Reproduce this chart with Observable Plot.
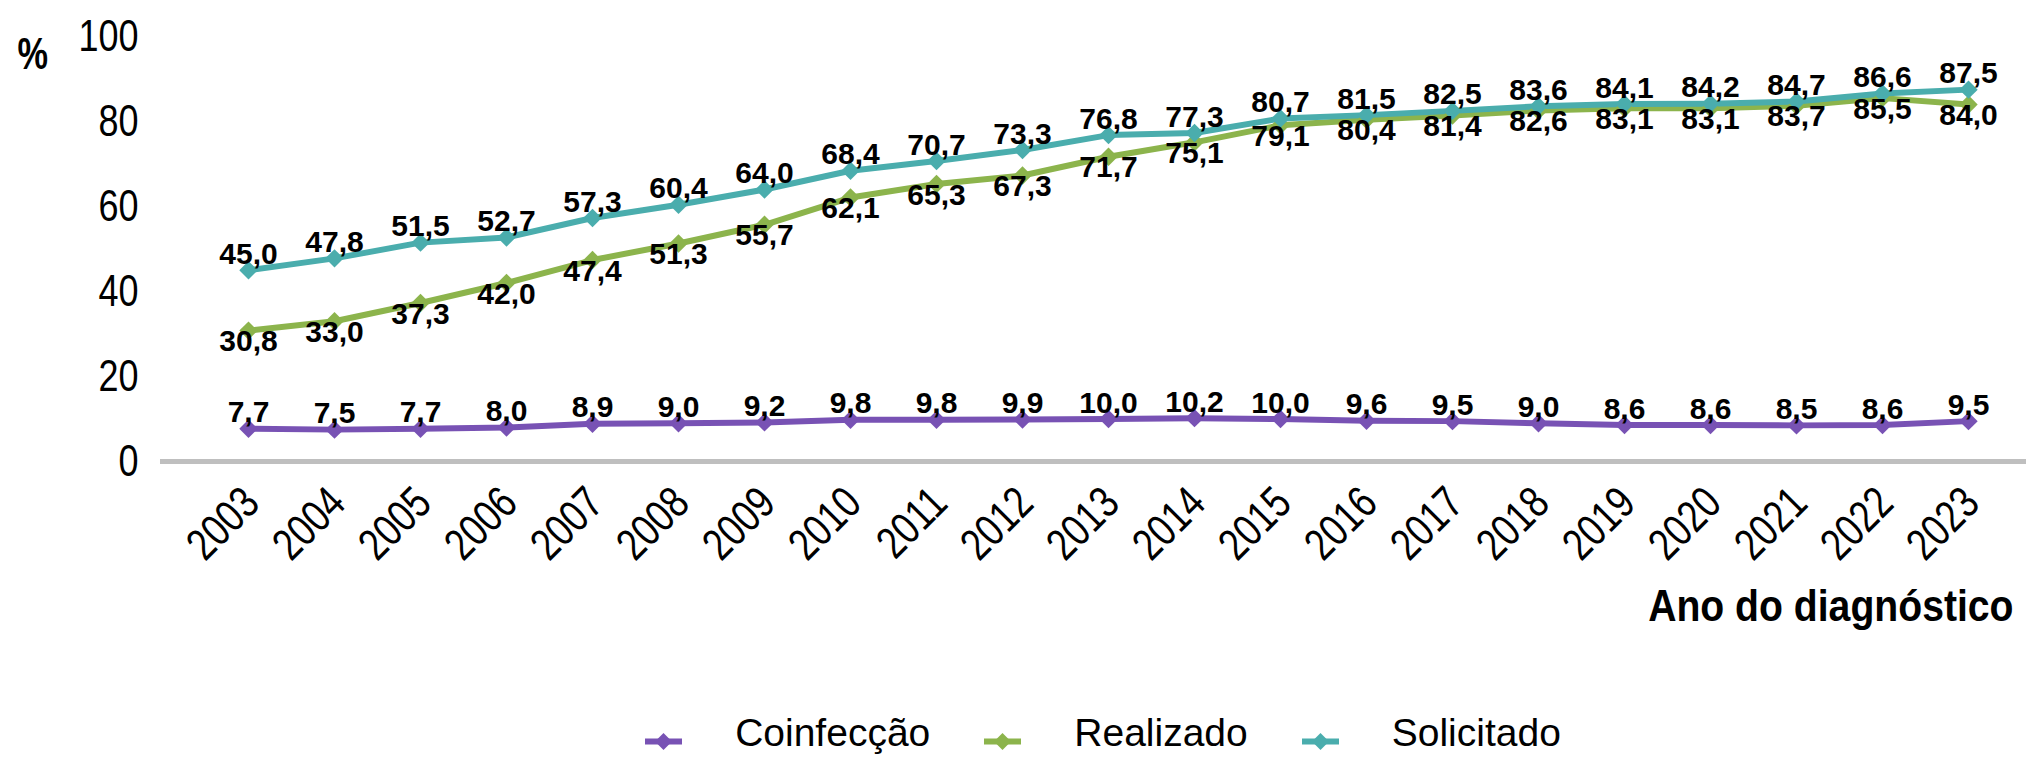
<!DOCTYPE html>
<html><head><meta charset="utf-8">
<script src="https://cdn.jsdelivr.net/npm/d3@7"></script>
<script src="https://cdn.jsdelivr.net/npm/@observablehq/plot@0.6"></script>
<style>
html,body{margin:0;padding:0;background:#fff;}
#wrap{position:relative;width:2026px;height:757px;overflow:hidden;}
#wrap > svg{position:absolute;left:0;top:0;}
#legend{position:absolute;left:170px;width:1866px;top:717px;display:flex;justify-content:center;align-items:flex-start;font-family:"Liberation Sans",Arial,sans-serif;font-size:39px;line-height:32px;color:#000;}
.item{display:flex;align-items:flex-start;margin:0 27px;white-space:nowrap;}
.item svg{margin-top:15px;margin-right:53px;}
</style></head>
<body><div id="wrap"><div id="legend"></div></div>
<script>
const years = [2003,2004,2005,2006,2007,2008,2009,2010,2011,2012,2013,2014,2015,2016,2017,2018,2019,2020,2021,2022,2023];
const coinfeccao = [7.7,7.5,7.7,8.0,8.9,9.0,9.2,9.8,9.8,9.9,10.0,10.2,10.0,9.6,9.5,9.0,8.6,8.6,8.5,8.6,9.5];
const realizado = [30.8,33.0,37.3,42.0,47.4,51.3,55.7,62.1,65.3,67.3,71.7,75.1,79.1,80.4,81.4,82.6,83.1,83.1,83.7,85.5,84.0];
const solicitado = [45.0,47.8,51.5,52.7,57.3,60.4,64.0,68.4,70.7,73.3,76.8,77.3,80.7,81.5,82.5,83.6,84.1,84.2,84.7,86.6,87.5];
const seriesNames = ["Coinfecção","Realizado","Solicitado"];
const seriesColors = ["#7852b4","#8cb44c","#4aadad"];
const yTicks = [0,20,40,60,80,100];
const yLabel = "%";
const xLabel = "Ano do diagnóstico";

const seriesValues = [coinfeccao, realizado, solicitado];
const data = seriesNames.flatMap((s, i) => years.map((yr, j) => ({series: s, year: yr, value: seriesValues[i][j]})));
const fmt = v => v.toFixed(1).replace(".", ",");
const font = '"Liberation Sans",Arial,sans-serif';
const H = 680;

const labelOffsets = {"Coinfecção": -16, "Realizado": 11, "Solicitado": -16};
const narrowTag = s => () => "narrow-" + s;

const chart = Plot.plot({
  width: 2026,
  height: H,
  marginLeft: 160,
  marginRight: 0,
  marginTop: 36,
  marginBottom: H - 461,
  style: {background: "transparent", fontFamily: font, color: "#000", overflow: "visible"},
  x: {type: "point", domain: years, range: [246, 1970], padding: 0, axis: null},
  y: {domain: [0, 100], axis: null},
  color: {domain: seriesNames, range: seriesColors},
  marks: [
    Plot.text(yTicks, {y: d => d, text: d => String(d), frameAnchor: "left", dx: -22, textAnchor: "end", lineAnchor: "middle", fontSize: 45, fill: "#000", ariaLabel: narrowTag("080")}),
    Plot.ruleY([0], {stroke: "#bfbfbf", strokeWidth: 5}),
    Plot.text(years, {x: d => d, text: d => String(d), frameAnchor: "bottom", dx: 3, dy: 34, rotate: -45, textAnchor: "end", lineAnchor: "middle", fontSize: 45, fill: "#000", ariaLabel: narrowTag("080")}),
    Plot.text([yLabel], {frameAnchor: "top-left", dx: 17 - 160, dy: 68 - 36, textAnchor: "start", lineAnchor: "bottom", fontSize: 44, fontWeight: "bold", fill: "#000", ariaLabel: narrowTag("078")}),
    Plot.text([xLabel], {frameAnchor: "bottom-right", dx: -13, dy: 620 - 461, textAnchor: "end", lineAnchor: "bottom", fontSize: 45, fontWeight: "bold", fill: "#000", ariaLabel: narrowTag("087")}),
    Plot.line(data, {x: "year", y: "value", z: "series", stroke: "series", strokeWidth: 6, strokeLinejoin: "round"}),
    Plot.dot(data, {x: "year", y: "value", fill: "series", symbol: "diamond2", r: 8.3, stroke: "none"}),
    ...seriesNames.map(s => Plot.text(data.filter(d => d.series === s), {
      x: "year", y: "value", text: d => fmt(d.value), dy: labelOffsets[s],
      lineAnchor: "middle", textAnchor: "middle", fontSize: 30, fontWeight: "bold", fill: "#000"
    }))
  ]
});
document.getElementById("wrap").prepend(chart);

// condensed rendering of axis texts (the original uses a narrow face)
chart.querySelectorAll('text[aria-label^="narrow-"]').forEach(t => {
  const s = +t.getAttribute("aria-label").slice(7) / 100;
  const w = t.getComputedTextLength();
  if (w > 0) {
    t.setAttribute("textLength", (w * s).toFixed(2));
    t.setAttribute("lengthAdjust", "spacingAndGlyphs");
  }
});

const legend = document.getElementById("legend");
seriesNames.forEach((s, i) => {
  const item = document.createElement("div");
  item.className = "item";
  const c = seriesColors[i];
  item.innerHTML = `<svg width="37" height="19" viewBox="0 0 37 19"><line x1="0" x2="37" y1="9.5" y2="9.5" stroke="${c}" stroke-width="6"/><polygon points="18.5,1 27,9.5 18.5,18 10,9.5" fill="${c}"/></svg><span>${s}</span>`;
  legend.appendChild(item);
});
</script>
</body></html>
